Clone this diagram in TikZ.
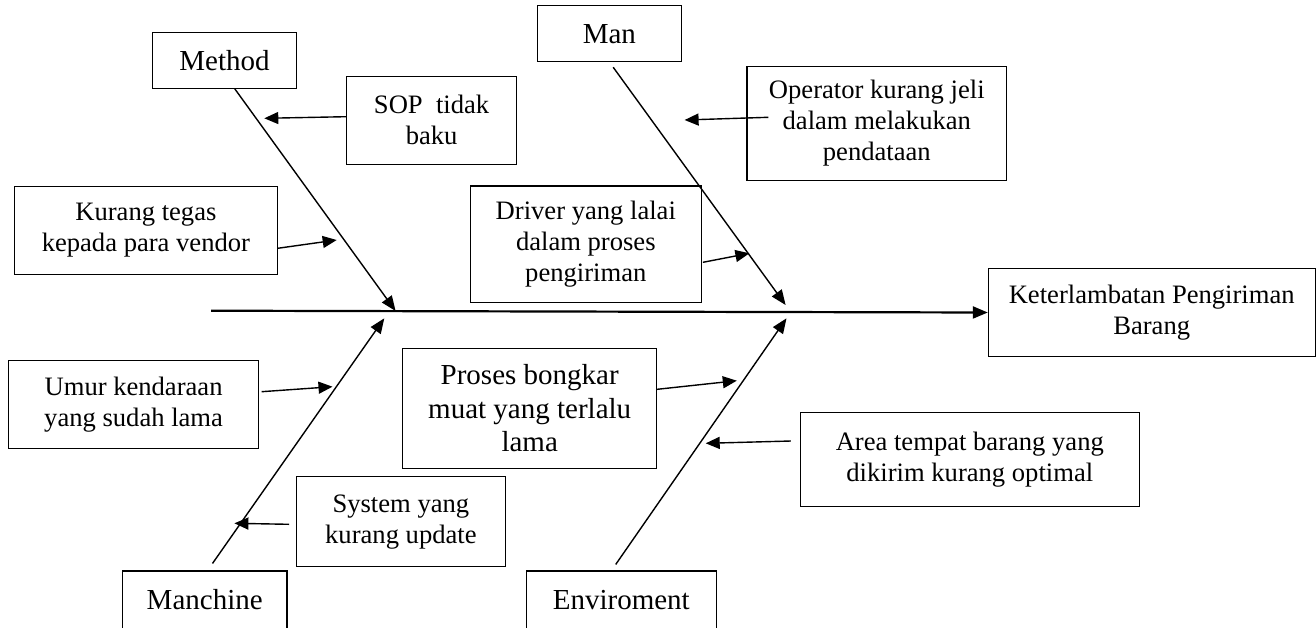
\documentclass[tikz,border=0pt]{standalone}
\usepackage{fontspec}
\setmainfont{Liberation Serif}
\usetikzlibrary{arrows.meta}
\begin{document}
\begin{tikzpicture}[x=1pt,y=-1pt,
  box/.style={draw, line width=1.1pt, inner sep=0pt, align=center,
              font=\fontsize{26.6}{31}\selectfont},
  bigbox/.style={box, font=\fontsize{29}{33.3}\selectfont},
  bone/.style={line width=1.4pt, -{Triangle[length=15pt,width=12pt]}},
  cause/.style={line width=1.4pt, -{Triangle[length=14pt,width=12pt]}},
  spine/.style={line width=2.2pt, -{Triangle[length=15pt,width=12pt]}}]
\clip (0,0) rectangle (1316,627);
\fill[white] (0,0) rectangle (1316,627);

% category heads
\node[bigbox, minimum width=144.3pt, minimum height=56pt]  (method) at (224.5,60.3) {Method};
\node[bigbox, minimum width=143.8pt, minimum height=56pt]  (man)    at (609.4,33.7) {Man};
\node[bigbox, minimum width=164.6pt, minimum height=58pt]  (mach)   at (204.7,600)  {Manchine};
\node[bigbox, minimum width=189.5pt, minimum height=58pt]  (env)    at (621.3,600)  {Enviroment};

% effect
\node[box, minimum width=326.7pt, minimum height=88.4pt] (ket) at (1151.7,312.5)
  {Keterlambatan Pengiriman\\Barang};

% causes
\node[box, minimum width=170.4pt, minimum height=88.3pt]  (sop)    at (431.6,120.2) {SOP~~tidak\\baku};
\node[box, minimum width=262.3pt, minimum height=88.3pt]  (kur)    at (145.9,230.2) {Kurang tegas\\kepada para vendor};
\node[box, minimum width=259.7pt, minimum height=114.3pt] (op)     at (876.8,123.2) {Operator kurang jeli\\dalam melakukan\\pendataan};
\node[box, minimum width=230.5pt, minimum height=116.7pt] (drv)    at (585.8,244.3) {Driver yang lalai\\dalam proses\\pengiriman};
\node[box, minimum width=250.4pt, minimum height=87.6pt]  (umur)   at (133.6,404.5) {Umur kendaraan\\yang sudah lama};
\node[bigbox, minimum width=253.8pt, minimum height=120pt](proses) at (529.7,408.3) {Proses bongkar\\muat yang terlalu\\lama};
\node[box, minimum width=208.3pt, minimum height=90pt]    (sys)    at (400.9,521.7) {System yang\\kurang update};
\node[box, minimum width=338.8pt, minimum height=94.4pt]  (area)   at (969.8,459.5) {Area tempat barang yang\\dikirim kurang optimal};

% spine
\coordinate (tail) at (211,310.7);
\draw[spine] (tail) -- (ket.west);

% bone tips on the spine
\coordinate (mtip)  at (395.6,311);
\coordinate (mantip) at (785.6,305);
\coordinate (mctip) at (384.3,318.3);
\coordinate (etip)  at (786.5,318.3);

\draw[bone] ([xshift=10.3pt]method.south) -- (mtip);
\draw[bone] ([xshift=3.8pt,yshift=-5pt]man.south) -- (mantip);
\draw[bone] ([xshift=7.8pt,yshift=7pt]mach.north) -- (mctip);
\draw[bone] ([xshift=-5.6pt,yshift=6pt]env.north) -- (etip);

% cause arrow tips
\coordinate (sopT)  at (264.3,118.3);
\coordinate (kurT)  at (336.7,240);
\coordinate (opT)   at (684.6,120);
\coordinate (drvT)  at (749.4,253.3);
\coordinate (umurT) at (332.5,386.7);
\coordinate (proT)  at (736.8,380.7);
\coordinate (sysT)  at (234.4,523.3);
\coordinate (areaT) at (705.7,443.3);

\draw[cause] ([yshift=3.5pt]sop.west) -- (sopT);
\draw[cause] ([yshift=-18.1pt]kur.east) -- (kurT);
\draw[cause] ([xshift=21.9pt,yshift=5.9pt]op.west) -- (opT);
\draw[cause] ([xshift=1.3pt,yshift=-18pt]drv.east) -- (drvT);
\draw[cause] ([xshift=2.2pt,yshift=12.8pt]umur.east) -- (umurT);
\draw[cause] ([yshift=19pt]proses.east) -- (proT);
\draw[cause] ([xshift=-7.1pt,yshift=-2.6pt]sys.west) -- (sysT);
\draw[cause] ([xshift=-8.9pt,yshift=18.5pt]area.west) -- (areaT);
\end{tikzpicture}
\end{document}
